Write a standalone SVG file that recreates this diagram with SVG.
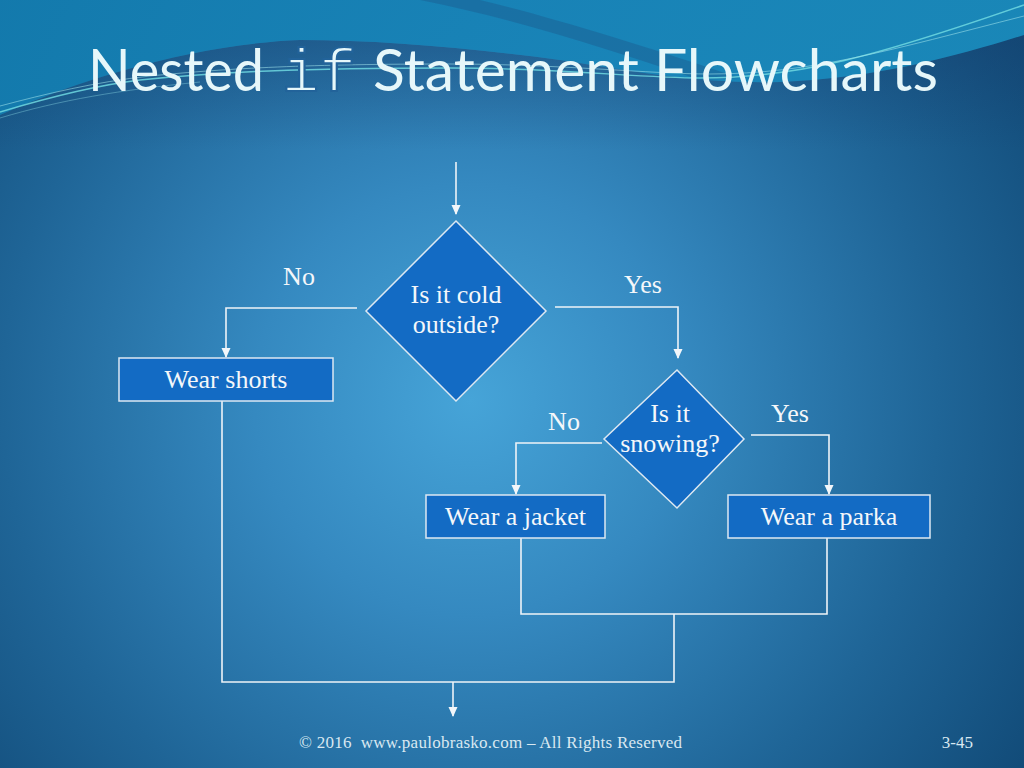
<svg xmlns="http://www.w3.org/2000/svg" width="1024" height="768" viewBox="0 0 1024 768">
  <defs>
    <radialGradient id="bg" gradientUnits="userSpaceOnUse" cx="470" cy="400" r="720">
      <stop offset="0" stop-color="#46a4d8"/>
      <stop offset="0.3" stop-color="#3589c0"/>
      <stop offset="0.65" stop-color="#1f6597"/>
      <stop offset="1" stop-color="#0e4470"/>
    </radialGradient>
    <linearGradient id="teal" x1="0" y1="0" x2="1" y2="0">
      <stop offset="0" stop-color="#137db0"/>
      <stop offset="0.5" stop-color="#1784b8"/>
      <stop offset="1" stop-color="#1a8cbd"/>
    </linearGradient>
    <linearGradient id="navy" gradientUnits="userSpaceOnUse" x1="0" y1="40" x2="0" y2="150">
      <stop offset="0" stop-color="#163f6e" stop-opacity="0.4"/>
      <stop offset="1" stop-color="#163f6e" stop-opacity="0"/>
    </linearGradient>
    <marker id="arr" markerUnits="userSpaceOnUse" markerWidth="10" markerHeight="10" viewBox="0 0 10 10" refX="9" refY="5" orient="auto">
      <path d="M0,0.5 L10,5 L0,9.5 Z" fill="#f2f6fa"/>
    </marker>
    <style>
      .node { fill: #136bc4; stroke: #dde8f2; stroke-width: 1.5; }
      .lbl { font-family: "Liberation Serif", "Times New Roman", serif; font-size: 26px; fill: #f4f7fa; text-anchor: middle; }
      .conn { fill: none; stroke: #eef3f8; stroke-width: 1.6; }
      .title { font-family: Lato, "Liberation Sans", sans-serif; font-size: 58px; fill: #e6f7fa; }
      .mono { font-family: "Liberation Mono", "Courier New", monospace; font-size: 62px; fill: #e6f7fa; stroke: #22639a; stroke-width: 2.2; }
      .foot { font-family: "Liberation Serif", "Times New Roman", serif; font-size: 17px; fill: #d9e8f1; }
    </style>
  </defs>

  <!-- background -->
  <rect x="0" y="0" width="1024" height="768" fill="url(#bg)"/>
  <path d="M0,115 C90,75 200,44 300,40 C380,40 470,48 560,60 C640,72 700,84 780,82 C880,78 960,55 1024,35 L1024,150 L0,150 Z" fill="url(#navy)"/>
  <path d="M0,0 H1024 V35 C960,55 880,78 780,82 C700,84 640,72 560,60 C470,48 380,40 300,40 C200,44 90,75 0,115 Z" fill="url(#teal)" opacity="0.92"/>
  <path d="M420,0 C520,20 610,50 700,80 L740,78 C640,44 540,14 480,0 Z" fill="#1b6296" opacity="0.55"/>
  <path d="M0,112 C40,100 90,86 140,80 C220,72 300,68 450,68 C560,68 640,78 700,78 C800,78 880,55 1024,5" fill="none" stroke="#6fd8e0" stroke-width="1.4" opacity="0.85"/>
  <path d="M0,106 C45,94 95,82 150,76 C230,68 310,64 450,64 C560,64 650,74 710,74 C810,74 890,50 1024,16" fill="none" stroke="#a6e8ef" stroke-width="0.9" opacity="0.6"/>
  <path d="M0,118 C60,100 120,90 200,82" fill="none" stroke="#8fdde6" stroke-width="0.8" opacity="0.5"/>

  <!-- title -->
  <text class="title" x="88" y="91" textLength="176" lengthAdjust="spacingAndGlyphs">Nested</text>
  <text class="mono" x="282" y="91">if</text>
  <text class="title" x="373" y="91" textLength="565" lengthAdjust="spacingAndGlyphs">Statement Flowcharts</text>

  <!-- connectors -->
  <g id="connectors">
    <path class="conn" d="M456,162 V214" marker-end="url(#arr)"/>
    <path class="conn" d="M357,308 H226 V357" marker-end="url(#arr)"/>
    <path class="conn" d="M555,307 H678 V358" marker-end="url(#arr)"/>
    <path class="conn" d="M602,443 H516 V494" marker-end="url(#arr)"/>
    <path class="conn" d="M751,435 H829 V494" marker-end="url(#arr)"/>
    <path class="conn" d="M521,538 V614 H827 V538"/>
    <path class="conn" d="M222,401 V682 H674 V614"/>
    <path class="conn" d="M453,682 V716" marker-end="url(#arr)"/>
    <text class="lbl" x="299" y="285">No</text>
    <text class="lbl" x="643" y="293">Yes</text>
    <text class="lbl" x="564" y="430">No</text>
    <text class="lbl" x="790" y="422">Yes</text>
  </g>

  <!-- nodes -->
  <g id="cold">
    <polygon class="node" points="456,221 546,311 456,401 366,311"/>
    <text class="lbl" x="456" y="303">Is it cold</text>
    <text class="lbl" x="456" y="333">outside?</text>
  </g>
  <g id="shorts">
    <rect class="node" x="119" y="358" width="214" height="43"/>
    <text class="lbl" x="226" y="388">Wear shorts</text>
  </g>
  <g id="snowing">
    <polygon class="node" points="677,370 744,439 677,508 604,439"/>
    <text class="lbl" x="670" y="422">Is it</text>
    <text class="lbl" x="670" y="452">snowing?</text>
  </g>
  <g id="jacket">
    <rect class="node" x="426" y="495" width="179" height="43"/>
    <text class="lbl" x="515.5" y="525">Wear a jacket</text>
  </g>
  <g id="parka">
    <rect class="node" x="728" y="495" width="202" height="43"/>
    <text class="lbl" x="829" y="525">Wear a parka</text>
  </g>

  <!-- footer -->
  <text class="foot" x="299" y="748" textLength="383">© 2016&#160; www.paulobrasko.com – All Rights Reserved</text>
  <text class="foot" x="973" y="748" text-anchor="end">3-45</text>
</svg>
